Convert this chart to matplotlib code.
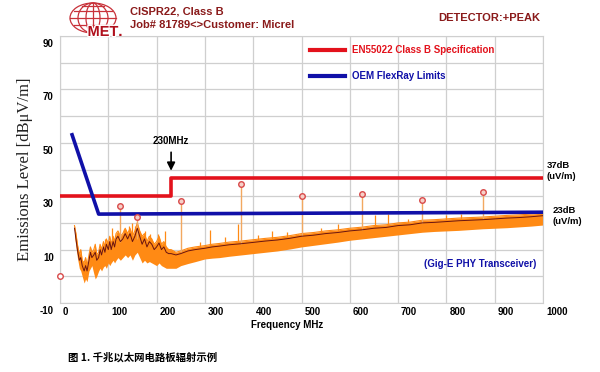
import matplotlib
matplotlib.use("Agg")
import matplotlib.pyplot as plt
import matplotlib.patches as mpatches
import matplotlib.patheffects as pe
import matplotlib.transforms as mtransforms

# Cores
C_RED    = "#e3121c"
C_BLUE   = "#1010a8"
C_ORANGE = "#ff8a14"
C_DARK   = "#6a1410"
C_STEM   = "#f2a860"
C_MARK   = "#d84a4a"
C_HEAD   = "#8a1a1a"
C_GRID   = "#cfcfcf"

NARROW = ["Liberation Sans Narrow", "Liberation Sans", "DejaVu Sans"]

# Limites
en55022_freq  = [0, 230, 230, 1000]
en55022_level = [30, 30, 37, 37]
flexray_freq  = [25, 80, 1000]
flexray_level = [53, 23.3, 24]

spec_freq = [30, 33, 36, 40, 43, 46, 50, 53, 56, 60, 63, 66, 70, 73, 76, 80,
             83, 86, 90, 93, 96, 100, 103, 106, 110, 113, 116, 120, 125, 130,
             135, 140, 145, 150, 155, 160, 165, 170, 175, 180, 185, 190, 195,
             200, 205, 210, 215, 220, 225, 230, 240, 250, 265, 280, 300, 315,
             330, 350, 375, 400, 425, 450, 475, 500, 525, 550, 575, 600, 625,
             650, 675, 700, 725, 750, 775, 800, 825, 850, 875, 900, 925, 950,
             975, 1000]
spec_top = [19, 16, 12, 8, 10, 6, 5, 7, 4, 8, 11, 9, 10, 12, 8, 9,
            12, 10, 13, 11, 14, 12, 15, 12, 15, 13, 16, 17, 15, 16,
            18, 16, 18, 15, 17, 20, 17, 15, 16, 13, 15, 14, 12,
            13, 15, 12, 13, 11, 10, 10, 9, 9.5, 10.5, 11, 11.5, 12,
            12.3, 12.8, 13.2, 13.7, 14.2, 14.6, 15.2, 16, 16.4, 17, 17.4, 18, 18.4,
            19, 19.3, 20, 20.3, 21, 21.2, 21.5, 21.8, 22, 22.2, 22.5, 22.8, 23,
            23.3, 23.7]
spec_bottom = [15, 11, 7, 3, 2, 0, -2.5, -1, -2, 2, 3, 4, 1, -1, 0, 2,
               3, 2, 3.5, 4, 3, 5, 4, 5, 6, 5, 6, 7, 6, 7,
               8, 7, 8, 6, 8, 9, 7, 5, 6, 5, 5.5, 5, 4.5,
               4, 5, 4, 3.5, 3, 3, 3, 3, 4, 4.8, 5.5, 6.5, 6.8,
               7, 7.5, 8, 8.5, 9, 9.5, 10.2, 11, 11.6, 12.2, 12.8, 13.5, 14,
               14.5, 15, 15.5, 16, 16.5, 16.8, 17, 17.2, 17.5, 17.8, 18, 18.2, 18.5,
               18.8, 19.2]
spec_peak = [18, 14, 10, 6, 7, 4, 2, 4, 2, 6, 9, 7, 8, 9, 6, 7,
             10, 8, 11, 9, 12, 10, 13, 10, 13, 11, 14, 15, 13, 14,
             16, 14, 16, 13, 15, 18, 15, 12, 14, 11, 13, 12, 10,
             11, 12.5, 10, 11, 9, 8.5, 8.5, 8, 8.5, 9.5, 10, 10.5, 11,
             11.3, 11.8, 12.2, 12.7, 13.2, 13.6, 14.2, 15, 15.4, 16, 16.4, 17, 17.4,
             18, 18.3, 19, 19.3, 20, 20.2, 20.5, 20.8, 21, 21.2, 21.5, 21.8, 22,
             22.3, 22.7]

# Picos estreitos do ruído
spike_freq  = [93, 108, 133, 142, 150, 155, 176, 186, 203, 217, 290, 310, 342,
               369, 410, 439, 470, 493, 540, 575, 652, 680, 720, 800, 830, 960]
spike_base  = [10, 12, 14, 15, 14, 15, 14, 12, 12, 11, 10, 11, 12,
               13, 13, 14, 14, 15, 16, 17, 18, 19, 19, 20, 21, 22]
spike_level = [14, 18, 17.6, 19, 20, 19, 17, 16, 15.8, 17, 13, 17.3, 14.6,
               19.5, 15.5, 17, 16.5, 16, 18, 19.5, 23, 23.5, 21.5, 23, 23.2, 24.5]

# Emissões marcadas (harmônicas)
mark_freq  = [125, 160, 250, 375, 500, 625, 750, 875]
mark_base  = [13, 14, 9, 12, 15, 17.5, 20, 21.5]
mark_level = [26.5, 22.3, 28.2, 34.7, 30, 31, 28.5, 31.4]

x_ticks = list(range(0, 1001, 100))
y_ticks = list(range(-10, 91, 10))
y_labels = [str(v) if v in (90, 70, 50, 30, 10, -10) else "" for v in y_ticks]

fig = plt.figure(figsize=(6, 3.72), dpi=100)
ax = fig.add_axes([60 / 600, 1 - 303 / 372, 483 / 600, 267 / 372])
ax.set_xlim(0, 1000)
ax.set_ylim(-10, 90)

ax.set_xticks(x_ticks)
ax.set_yticks(y_ticks)
ax.set_xticklabels([str(v) for v in x_ticks], fontsize=7, fontweight="bold",
                   family=NARROW, ha="left")
ax.set_yticklabels(y_labels, fontsize=7, fontweight="bold", family=NARROW, va="top")
ax.tick_params(length=0, pad=3)
for lab in ax.get_xticklabels():
    lab.set_transform(lab.get_transform() + mtransforms.ScaledTranslation(3 / 100, 0, fig.dpi_scale_trans))
for lab in ax.get_yticklabels():
    lab.set_transform(lab.get_transform() + mtransforms.ScaledTranslation(-2 / 100, -3 / 100, fig.dpi_scale_trans))
ax.grid(True, color=C_GRID, linewidth=0.9)
ax.set_axisbelow(True)
for s in ax.spines.values():
    s.set_color(C_GRID)

# Espectro
ax.fill_between(spec_freq, spec_bottom, spec_top, color=C_ORANGE, linewidth=0, zorder=2)
ax.plot(spec_freq, spec_top, color=C_ORANGE, linewidth=0.8, zorder=2)
ax.plot(spec_freq, spec_peak, color=C_DARK, linewidth=0.7, zorder=3)
ax.vlines(spike_freq, spike_base, spike_level, color=C_ORANGE, linewidth=0.9, zorder=2)
ax.vlines(mark_freq, mark_base, mark_level, color=C_STEM, linewidth=1.0, zorder=2)
ax.plot(mark_freq, mark_level, "o", ms=4, mfc="#f6d0c8", mec=C_MARK, mew=1.0, zorder=5)
ax.plot([0], [0], "o", ms=4, mfc="white", mec=C_MARK, mew=1.0, zorder=5, clip_on=False)

# Limites
ax.plot(en55022_freq, en55022_level, color=C_RED, linewidth=2.6, zorder=4)
ax.plot(flexray_freq, flexray_level, color=C_BLUE, linewidth=2.6, zorder=4)

# Legenda manual
ax.plot([518, 590], [84.8, 84.8], color=C_RED, linewidth=3)
ax.text(605, 84.8, "EN55022 Class B Specification", color=C_RED, fontsize=7,
        fontweight="bold", family=NARROW, va="center")
ax.plot([518, 590], [75, 75], color=C_BLUE, linewidth=3)
ax.text(605, 75, "OEM FlexRay Limits", color=C_BLUE, fontsize=7,
        fontweight="bold", family=NARROW, va="center")

# Anotações
ax.text(230, 50.5, "230MHz", fontsize=7, fontweight="bold", family=NARROW,
        ha="center", va="center")
ax.annotate("", xy=(230, 38.5), xytext=(230, 47.5),
            arrowprops=dict(arrowstyle="-|>", color="black", lw=1.2, mutation_scale=12))
ax.text(1008, 39.3, "37dB\n(uV/m)", fontsize=6.8, fontweight="bold", family=NARROW,
        va="center", ha="left", linespacing=1.3)
ax.text(1020, 22.5, "23dB\n(uV/m)", fontsize=6.8, fontweight="bold", family=NARROW,
        va="center", ha="left", linespacing=1.3)
ax.text(870, 4.5, "(Gig-E PHY Transceiver)", color=C_BLUE, fontsize=7,
        fontweight="bold", family=NARROW, ha="center", va="center")

ax.set_xlabel("Frequency MHz", fontsize=7, fontweight="bold", family=NARROW, labelpad=0)
ax.xaxis.set_label_coords(0.47, -0.065)
ax.set_ylabel("Emissions Level [dBμV/m]", fontsize=12, family="Liberation Serif",
              color="#222222", labelpad=4)
ax.yaxis.set_label_coords(-0.055, 0.5)

# Cabeçalho
fig.text(130 / 600, 1 - 12 / 372, "CISPR22, Class B", color=C_HEAD, fontsize=8,
         fontweight="bold", family=NARROW, va="center")
fig.text(130 / 600, 1 - 25 / 372, "Job# 81789<>Customer: Micrel", color=C_HEAD,
         fontsize=8, fontweight="bold", family=NARROW, va="center")
fig.text(540 / 600, 1 - 18 / 372, "DETECTOR:+PEAK", color=C_HEAD, fontsize=8,
         fontweight="bold", family=NARROW, va="center", ha="right")

# Logo MET (globo)
lax = fig.add_axes([66 / 600, 1 - 38 / 372, 62 / 600, 37 / 372])
lax.set_xlim(0, 62)
lax.set_ylim(0, 37)
lax.axis("off")
for w in [46, 30, 14]:
    lax.add_patch(mpatches.Ellipse((27, 20), w, 30, fill=False, ec="#c8323a", lw=0.9))
lax.plot([27, 27], [5, 35], color="#c8323a", lw=0.9)
for yy, half in [(20, 23), (27, 19), (13, 19), (32, 11)]:
    lax.plot([27 - half, 27 + half], [yy, yy], color="#c8323a", lw=0.9)
lax.text(37, 6, "MET", color="#b0101c", fontsize=10.5, fontweight="bold",
         family="Liberation Sans", ha="center", va="center",
         path_effects=[pe.withStroke(linewidth=2, foreground="white")])
lax.text(52, 2, ".", color="#b0101c", fontsize=9, fontweight="bold")

# Legenda da figura
fig.text(68 / 600, 1 - 357 / 372, "图 1. 千兆以太网电路板辐射示例", fontsize=7.5,
         fontweight="bold", family=["Noto Sans CJK SC", "DejaVu Sans"], va="center")

fig.savefig("out.png", dpi=100)
